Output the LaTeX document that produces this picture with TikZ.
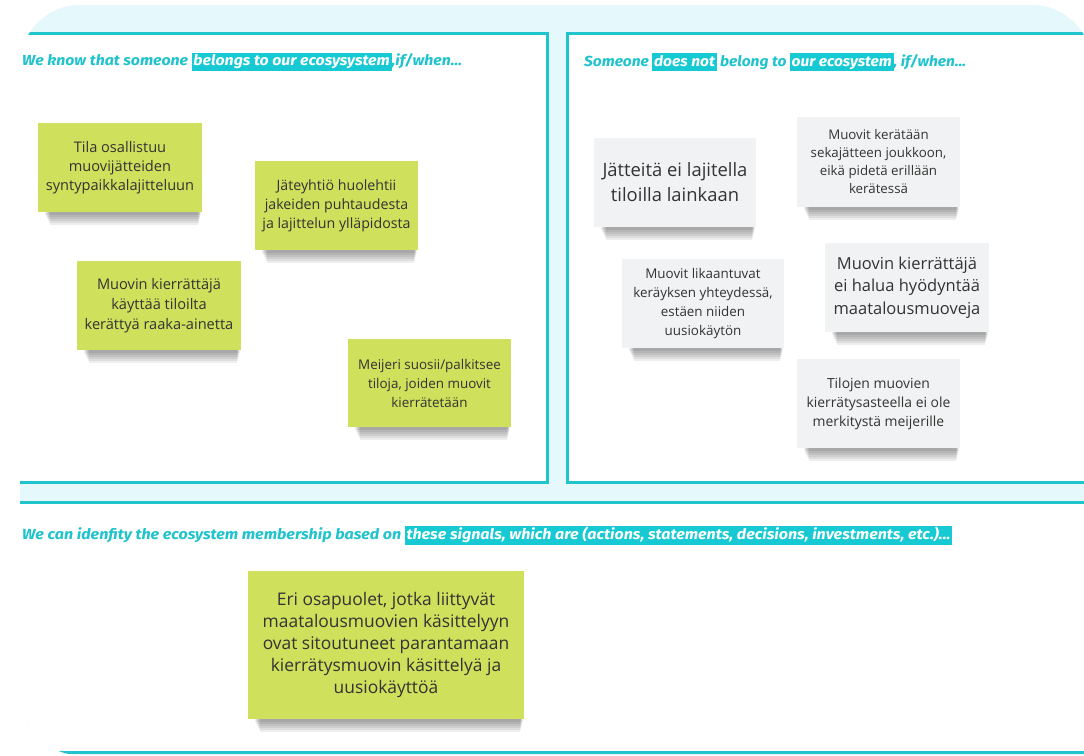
\documentclass[tikz,border=0pt]{standalone}
\usepackage{fontspec}
\setmainfont{Open Sans}
\newfontfamily\headfont{Fira Sans}
\usetikzlibrary{calc}
\definecolor{cyanline}{HTML}{20C4CC}
\definecolor{boardbg}{HTML}{E5F8FB}
\definecolor{headcyan}{HTML}{1FC3CD}
\definecolor{hlcyan}{HTML}{16C9D2}
\definecolor{notegreen}{HTML}{CEE05C}
\definecolor{notegrey}{HTML}{F1F2F3}
\definecolor{notetext}{HTML}{333333}
\newcommand\hlbox[1]{{\setlength\fboxsep{1.5pt}\colorbox{hlcyan}{\vrule height 0.8em depth 0.22em width 0pt\textcolor{white}{#1}}}}
\newcommand\noteshadow[1]{\foreach \k in {1,...,6}{\fill[black, opacity=0.065] ($(#1.south west)+(6+\k,0)$) rectangle ($(#1.south east)+(-1-0.5*\k, 1+2*\k)$);}}
\begin{document}
\begin{tikzpicture}[x=1pt,y=-1pt,
  note/.style={inner sep=0pt, align=center, text=notetext, minimum width=163pt, minimum height=89pt},
  gnote/.style={note, fill=notegreen},
  wnote/.style={note, fill=notegrey},
  panel/.style={fill=white, draw=cyanline, line width=3pt},
  head/.style={inner sep=0pt, anchor=south west, text=headcyan, font=\headfont\bfseries\itshape\fontsize{14}{16}\selectfont}]
\useasboundingbox (0,0) rectangle (1084,755);
\fill[white] (0,0) rectangle (1084,755);
\begin{scope}
\clip (20,65) arc[start angle=180,end angle=270,radius=60] -- (1032,5) arc[start angle=270,end angle=360,radius=60] -- (1092,755) -- (80,755) arc[start angle=90,end angle=180,radius=60] -- cycle;
\fill[boardbg] (0,0) rectangle (1100,760);
\draw[panel] (-10,33) rectangle (547,482);
\draw[panel] (567,33) rectangle (1150,482);
\draw[panel] (-10,502) rectangle (1150,752);
\end{scope}

% headings
\node[head] (h1) at (22,71) {\resizebox*{440pt}{18pt}{We know that someone \hlbox{belongs to our ecosysystem},if/when...}};
\node[head] (h2) at (584,71) {\resizebox*{382pt}{18pt}{Someone \hlbox{does not} belong to \hlbox{our ecosystem}, if/when...}};
\node[head] (h3) at (22,545) {\resizebox*{930pt}{19pt}{We can idenfity the ecosystem membership based on \hlbox{these signals, which are (actions, statements, decisions, investments, etc.)...}}};

% left notes
\node[gnote, minimum width=164pt, font=\fontsize{14.6}{19}\selectfont] (n1) at (120,167.5) {Tila osallistuu\\muovijätteiden\\syntypaikkalajitteluun};
\node[gnote, font=\fontsize{14.2}{19}\selectfont] (n2) at (336.5,205.5) {Jäteyhtiö huolehtii\\jakeiden puhtaudesta\\ja lajittelun ylläpidosta};
\node[gnote, minimum width=164pt, font=\fontsize{14.6}{20}\selectfont] (n3) at (159,305.5) {Muovin kierrättäjä\\käyttää tiloilta\\kerättyä raaka-ainetta};
\node[gnote, minimum height=88pt, font=\fontsize{13.4}{19}\selectfont] (n4) at (429.5,383) {Meijeri suosii/palkitsee\\tiloja, joiden muovit\\kierrätetään};

% right notes
\node[wnote, minimum width=162pt, font=\fontsize{18.4}{25}\selectfont] (n5) at (675,182) {Jätteitä ei lajitella\\tiloilla lainkaan};
\node[wnote, minimum height=90pt, font=\fontsize{13.3}{18}\selectfont] (n6) at (878.5,162) {Muovit kerätään\\sekajätteen joukkoon,\\eikä pidetä erillään\\kerätessä};
\node[wnote, minimum width=162pt, font=\fontsize{13.4}{18.7}\selectfont] (n7) at (703,303.5) {Muovit likaantuvat\\keräyksen yhteydessä,\\estäen niiden\\uusiokäytön};
\node[wnote, minimum width=164pt, font=\fontsize{16.5}{22.5}\selectfont] (n8) at (907,287.5) {Muovin kierrättäjä\\ei halua hyödyntää\\maatalousmuoveja};
\node[wnote, font=\fontsize{13.9}{19}\selectfont] (n9) at (878.5,403.5) {Tilojen muovien\\kierrätysasteella ei ole\\merkitystä meijerille};

% bottom note
\node[gnote, minimum width=276pt, minimum height=148pt, font=\fontsize{17.4}{21.8}\selectfont] (n10) at (386,645) {Eri osapuolet, jotka liittyvät\\maatalousmuovien käsittelyyn\\ovat sitoutuneet parantamaan\\kierrätysmuovin käsittelyä ja\\uusiokäyttöä};

\noteshadow{n1}\noteshadow{n2}\noteshadow{n3}\noteshadow{n4}\noteshadow{n5}
\noteshadow{n6}\noteshadow{n7}\noteshadow{n8}\noteshadow{n9}\noteshadow{n10}
\end{tikzpicture}
\end{document}
